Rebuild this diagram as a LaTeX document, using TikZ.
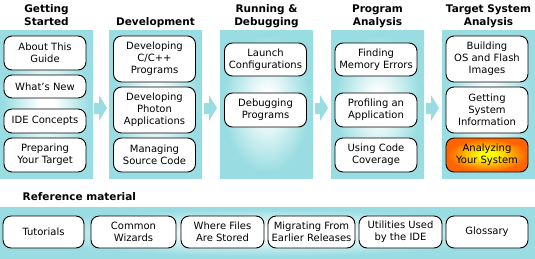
\documentclass[tikz,border=0pt]{standalone}
\usepackage{fontspec}
\setmainfont{DejaVu Sans}
\usepackage{xcolor}
\usetikzlibrary{positioning, calc}

\definecolor{panelcyan}{RGB}{153,221,226}
\definecolor{hotorange}{RGB}{255,100,0}
\definecolor{hotyellow}{RGB}{255,255,0}
\pgfdeclareradialshading{panelglow}{\pgfpoint{0bp}{0bp}}{color(0bp)=(white); color(4bp)=(white); color(23bp)=(panelcyan); color(25bp)=(panelcyan); color(50bp)=(panelcyan)}
\pgfdeclareradialshading{hotglow}{\pgfpoint{0bp}{0bp}}{color(0bp)=(hotyellow); color(5bp)=(hotyellow); color(24bp)=(hotorange); color(50bp)=(hotorange)}

\tikzset{
  panel/.style={inner sep=0pt, minimum width=93pt, minimum height=148pt, shade, shading=panelglow},
  band/.style={inner sep=0pt, minimum width=535pt, minimum height=51pt, shade, shading=panelglow},
  header/.style={inner sep=0pt, align=center, text depth=0pt, font={\bfseries\fontsize{10.5}{12.5}\selectfont}},
  topic/.style={draw=black, line width=0.9pt, fill=white, rounded corners=8pt, align=center,
    inner sep=1pt, minimum width=82pt, font={\fontsize{10}{12}\selectfont}},
  hot/.style={topic, shade, shading=hotglow},
  flowarrow/.style={fill=panelcyan}
}

\begin{document}
\begin{tikzpicture}[x=1pt, y=-1pt]
    \useasboundingbox (0,0) rectangle (535,258);

    % Getting Started
    \node[panel] (started) at (46.5,104) {};
    \node[header, above=4.5pt of started] (startedhead) {Getting\\Started};
    \node[topic, minimum height=34pt] (guide) at (45,53) {About This\\Guide};
    \node[topic, minimum height=23pt] (whatsnew) at (45,86.5) {What's New};
    \node[topic, minimum height=24pt] (concepts) at (45,121) {IDE Concepts};
    \node[topic, minimum height=34pt] (target) at (45,155) {Preparing\\Your Target};

    % Development
    \node[panel] (develop) at (155.5,104) {};
    \node[header, above=4.5pt of develop] (develophead) {Development};
    \node[topic, minimum height=46pt] (ccpp) at (154.5,59) {Developing\\C/C++\\Programs};
    \node[topic, minimum height=46pt] (photon) at (154.5,110) {Developing\\Photon\\Applications};
    \node[topic, minimum height=34pt] (source) at (154.5,155) {Managing\\Source Code};

    % Running & Debugging
    \node[panel] (running) at (266.5,104) {};
    \node[header, above=4.5pt of running] (runninghead) {Running \&\\Debugging};
    \node[topic, minimum height=33pt] (launch) at (265.5,59.5) {Launch\\Configurations};
    \node[topic, minimum height=34pt] (debug) at (265.5,110) {Debugging\\Programs};

    % Program Analysis
    \node[panel] (analysis) at (377.5,104) {};
    \node[header, above=4.5pt of analysis] (analysishead) {Program\\Analysis};
    \node[topic, minimum height=33pt] (memory) at (376,59.5) {Finding\\Memory Errors};
    \node[topic, minimum height=34pt] (profile) at (376,110) {Profiling an\\Application};
    \node[topic, minimum height=34pt] (coverage) at (376,155) {Using Code\\Coverage};

    % Target System Analysis
    \node[panel] (system) at (488.5,104) {};
    \node[header, above=4.5pt of system] (systemhead) {Target System\\Analysis};
    \node[topic, minimum height=46pt] (flash) at (487,59) {Building\\OS and Flash\\Images};
    \node[topic, minimum height=46pt] (sysinfo) at (487,110) {Getting\\System\\Information};
    \node[hot, minimum height=34pt] (analyze) at (487,155) {Analyzing\\Your System};

    % Block arrows between the panels
    \foreach \from/\to in {started/develop, develop/running, running/analysis, analysis/system}
        \fill[flowarrow] ($(\from.east)!0.5!(\to.west)+(0,4)$) ++(-7,-5) -- ++(5,0) -- ++(0,-8)
            -- ++(8,13) -- ++(-8,13) -- ++(0,-7) -- ++(-5,0) -- cycle;

    % Reference material
    \node[header, anchor=base west] (refhead) at (22.5,200.5) {Reference material};
    \node[band] (refband) at (267.5,232.5) {};
    \node[topic, minimum height=32pt, minimum width=81pt] (tutorials) at (43.5,232) {Tutorials};
    \node[topic, minimum height=32pt, minimum width=85pt] (wizards) at (133.5,232) {Common\\Wizards};
    \node[topic, minimum height=32pt, minimum width=83pt] (files) at (222.5,232) {Where Files\\Are Stored};
    \node[topic, minimum height=32pt, minimum width=87pt] (migrate) at (311.5,232) {Migrating From\\Earlier Releases};
    \node[topic, minimum height=32pt, minimum width=83pt] (utilities) at (400.5,232) {Utilities Used\\by the IDE};
    \node[topic, minimum height=32pt, minimum width=82pt] (glossary) at (487,232) {Glossary};
\end{tikzpicture}
\end{document}
